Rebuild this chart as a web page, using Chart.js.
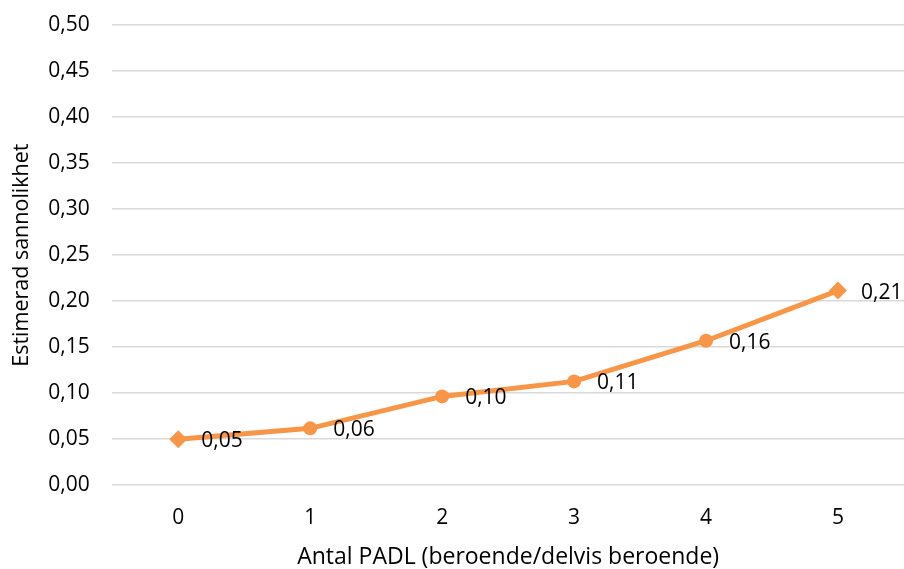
<!DOCTYPE html>
<html><head><meta charset="utf-8">
<script src="https://cdn.jsdelivr.net/npm/chart.js@4"></script>
<style>html,body{margin:0;padding:0;background:#fff}#wrap{width:904px;height:569px;overflow:hidden;position:relative}#c{position:absolute;left:0;top:-10px}</style>
</head><body><div id="wrap"><canvas id="c" width="913" height="579"></canvas></div>
<script>
const categories = ['0','1','2','3','4','5'];
const values = [0.0499, 0.0618, 0.0965, 0.1128, 0.157, 0.2115];
const valueLabels = ['0,05','0,06','0,10','0,11','0,16','0,21'];
const pointShapes = ['rectRot','circle','circle','circle','circle','rectRot'];
const yTitle = 'Estimerad sannolikhet';
const xTitle = 'Antal PADL (beroende/delvis beroende)';

const FONT = "'Open Sans', 'Liberation Sans', sans-serif";
const ORANGE = '#F79646';

const labelPlugin = {
  id: 'vlabels',
  afterDatasetsDraw(chart) {
    const ctx = chart.ctx;
    const meta = chart.getDatasetMeta(0);
    ctx.save();
    ctx.font = "21px " + FONT;
    ctx.fillStyle = '#000';
    ctx.textAlign = 'left';
    ctx.textBaseline = 'middle';
    meta.data.forEach((pt, i) => {
      ctx.fillText(valueLabels[i], pt.x + 23, pt.y + 2);
    });
    ctx.restore();
  }
};

new Chart(document.getElementById('c'), {
  type: 'line',
  data: {
    labels: categories,
    datasets: [{
      data: values,
      borderColor: ORANGE,
      backgroundColor: ORANGE,
      borderWidth: 5,
      pointStyle: pointShapes,
      pointRadius: [9,7,7,7,7,9],
      pointBorderWidth: 0,
      tension: 0
    }]
  },
  options: {
    responsive: false,
    animation: false,
    layout: { padding: { top: 0, right: 0, bottom: -2, left: 9 } },
    plugins: { legend: { display: false }, tooltip: { enabled: false } },
    scales: {
      x: {
        offset: true,
        grid: { display: false, drawTicks: false },
        border: { display: false },
        ticks: { font: { size: 21, family: FONT }, color: '#000', padding: 20 },
        title: { display: true, text: xTitle, font: { size: 23, family: FONT }, color: '#000', padding: { top: -7, bottom: 0 } }
      },
      y: {
        min: 0, max: 0.5,
        grid: { color: '#D9D9D9', lineWidth: 1.5, drawTicks: false },
        border: { display: false },
        ticks: {
          stepSize: 0.05,
          font: { size: 21, family: FONT }, color: '#000', padding: 22.5,
          callback: (v) => v.toFixed(2).replace('.', ',')
        },
        title: { display: true, text: yTitle, font: { size: 21.5, family: FONT }, color: '#000', padding: { top: 0, bottom: -9 } }
      }
    }
  },
  plugins: [labelPlugin]
});
</script></body></html>
